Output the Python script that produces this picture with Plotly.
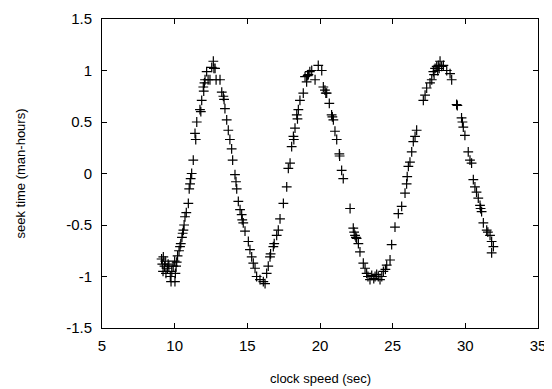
import plotly.graph_objects as go

# clock speed (sec)
x_vals = [
    9.1, 9.15, 9.2, 9.22, 9.3, 9.35, 9.4, 9.5, 9.55, 9.6, 9.7, 9.75, 9.8, 9.9, 10.0, 10.02, 10.05, 10.1,
    10.14, 10.2, 10.3, 10.37, 10.42, 10.5, 10.55, 10.6, 10.65, 10.71, 10.8, 10.94, 11.0, 11.06,
    11.1, 11.17, 11.28, 11.4, 11.45, 11.52, 11.74, 11.8, 11.86, 11.97, 12.0, 12.05, 12.09, 12.2, 12.3,
    12.43, 12.55, 12.66, 12.7, 12.78, 12.85, 13.12, 13.24, 13.35, 13.4, 13.46, 13.58, 13.69, 13.8, 13.92,
    13.99, 14.15, 14.22, 14.27,
    14.38, 14.5, 14.61, 14.65, 14.72, 14.84, 15.07, 15.18, 15.3, 15.41, 15.53, 15.64, 15.87, 16.1, 16.22,
    16.33, 16.44, 16.56, 16.6, 16.79, 16.85, 17.02, 17.13, 17.25, 17.48, 17.71,
    17.82, 17.94, 18.05, 18.17, 18.2, 18.28, 18.4, 18.45, 18.51, 18.62, 18.85, 18.97, 19.08, 19.15, 19.2,
    19.3, 19.43, 19.66, 19.88, 20.12, 20.23, 20.34, 20.4, 20.46, 20.64, 20.8, 20.85, 20.92, 21.03, 21.15,
    21.33, 21.35, 21.49, 21.6,
    22.07, 22.29, 22.35, 22.41, 22.47, 22.52, 22.64, 22.75, 22.98, 23.1, 23.21, 23.3, 23.44, 23.56, 23.7,
    23.79, 23.9, 24.01, 24.13, 24.25, 24.36, 24.5, 24.59, 24.82, 24.93, 25.16, 25.39, 25.62, 25.85,
    25.96, 26.0, 26.08, 26.19, 26.31, 26.42, 26.54, 26.65, 27.11, 27.23, 27.34, 27.57, 27.69, 27.8, 27.85,
    27.92, 28.03, 28.1, 28.14, 28.2, 28.26, 28.37, 28.49, 28.72, 28.95, 29.06, 29.4, 29.45, 29.74, 29.8,
    29.86, 29.97, 30.2, 30.32, 30.43, 30.55, 30.66, 30.77,
    30.89, 31.01, 31.05, 31.12, 31.24, 31.47, 31.55, 31.7, 31.81, 31.93, 31.81,
]

# seek time (man-hours)
y_vals = [
    -0.83, -0.88, -0.95, -0.81, -0.9, -0.85, -0.97, -0.92, -0.88, -0.9, -1.0, -1.05, -0.95, -0.9, -0.85, -1.05, -0.97, -0.9,
    -0.86, -0.8, -0.75, -0.71, -0.68, -0.62, -0.58, -0.55, -0.5, -0.42, -0.38, -0.29, -0.15, -0.1,
    -0.05, 0.0, 0.13, 0.39, 0.33, 0.5, 0.62, 0.6, 0.71, 0.84, 0.8, 0.88, 0.91, 0.99, 0.91,
    0.91, 1.03, 1.09, 1.02, 1.02, 0.91, 0.91, 0.79, 0.75, 0.72, 0.63, 0.52, 0.42, 0.33, 0.24,
    0.13, -0.01, -0.08, -0.15,
    -0.27, -0.35, -0.4, -0.45, -0.48, -0.56, -0.66, -0.74, -0.81, -0.87, -0.92, -1.0, -1.03, -1.05, -1.07,
    -0.97, -0.9, -0.81, -0.78, -0.71, -0.68, -0.6, -0.55, -0.44, -0.29, -0.13,
    0.05, 0.1, 0.26, 0.36, 0.33, 0.44, 0.57, 0.53, 0.62, 0.71, 0.78, 0.94, 0.89, 0.95, 0.96,
    0.99, 1.0, 0.91, 1.05, 1.0, 0.84, 0.81, 0.78, 0.78, 0.68, 0.57, 0.55, 0.52, 0.41, 0.33,
    0.19, 0.17, 0.03, -0.05,
    -0.34, -0.53, -0.57, -0.6, -0.62, -0.63, -0.68, -0.76, -0.87, -0.92, -0.97, -1.0, -1.03, -0.99, -1.02,
    -1.0, -0.98, -1.0, -1.03, -1.0, -0.95, -0.93, -0.89, -0.84, -0.69, -0.52, -0.39, -0.32, -0.19,
    -0.1, -0.03, 0.07, 0.11, 0.21, 0.31, 0.36, 0.42, 0.71, 0.76, 0.83, 0.88, 0.91, 0.99, 0.96,
    1.02, 1.04, 1.0, 1.05, 1.02, 1.09, 1.04, 1.05, 1.0, 0.97, 0.91, 0.67, 0.66, 0.54, 0.5,
    0.45, 0.37, 0.21, 0.13, 0.1, -0.06, -0.13, -0.18,
    -0.24, -0.31, -0.34, -0.37, -0.48, -0.55, -0.57, -0.6, -0.66, -0.71, -0.77,
]

x_tick_vals = [5, 10, 15, 20, 25, 30, 35]
x_tick_text = ["5", "10", "15", "20", "25", "30", "35"]
y_tick_vals = [-1.5, -1, -0.5, 0, 0.5, 1, 1.5]
y_tick_text = ["-1.5", "-1", "-0.5", "0", "0.5", "1", "1.5"]
x_title = "clock speed (sec)"
y_title = "seek time (man-hours)"

fig = go.Figure()
fig.add_trace(go.Scatter(
    x=x_vals, y=y_vals, mode="markers",
    marker=dict(symbol="cross-thin", size=7, color="black",
                line=dict(width=1.2, color="black")),
    showlegend=False,
))

font = dict(family="Liberation Sans, Arial, sans-serif", size=13, color="black")
tick_font = dict(family="Liberation Sans, Arial, sans-serif", size=15, color="black")

fig.update_layout(
    width=544, height=381,
    margin=dict(l=94, r=14, t=11, b=61),
    paper_bgcolor="white", plot_bgcolor="white",
    font=font,
    xaxis=dict(
        range=[5, 35], tickmode="array", tickvals=x_tick_vals, ticktext=x_tick_text,
        showgrid=False, zeroline=False, showline=True, mirror="ticks", automargin=False,
        linecolor="black", linewidth=1, ticks="inside", ticklen=5, tickcolor="black",
        tickfont=tick_font, ticklabelstandoff=4,
    ),
    yaxis=dict(
        range=[-1.5, 1.5], tickmode="array", tickvals=y_tick_vals, ticktext=y_tick_text,
        showgrid=False, zeroline=False, showline=True, mirror="ticks", automargin=False,
        linecolor="black", linewidth=1, ticks="inside", ticklen=5, tickcolor="black",
        tickfont=tick_font, ticklabelstandoff=6,
    ),
    annotations=[
        dict(text=x_title, xref="paper", yref="paper", x=0.5, y=-0.162,
             xanchor="center", yanchor="middle", showarrow=False, font=font),
        dict(text=y_title, xref="paper", yref="paper", x=-0.188, y=0.5,
             xanchor="center", yanchor="middle", textangle=-90, showarrow=False, font=font),
    ],
)

fig.write_html("out.html")
